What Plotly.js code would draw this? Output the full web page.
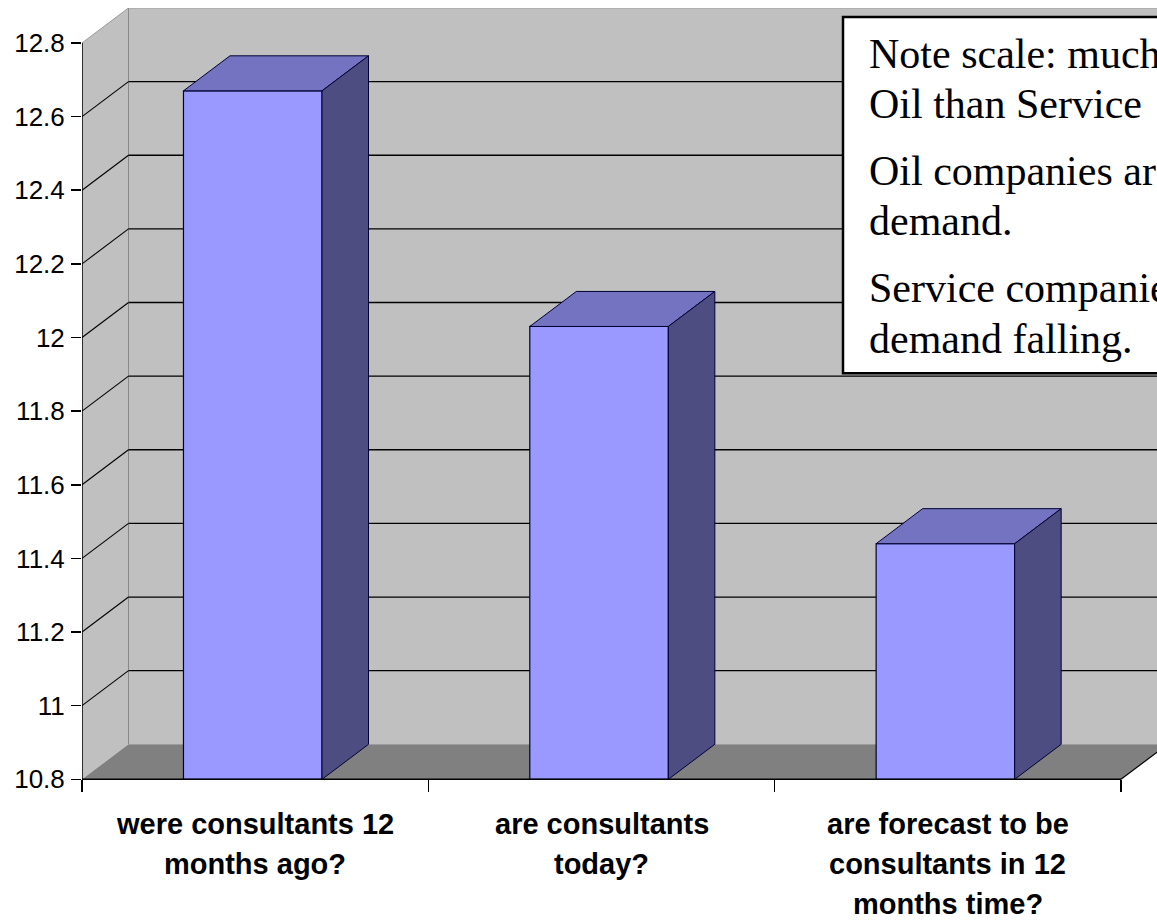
<!DOCTYPE html>
<html>
<head>
<meta charset="utf-8">
<script src="https://cdn.plot.ly/plotly-3.0.1.min.js"></script>
<style>html,body{margin:0;padding:0;background:#fff;}#chart{width:1157px;height:922px;}</style>
</head>
<body>
<div id="chart"></div>
<script>
// ---- data ----
const categories = ["were consultants 12 months ago?", "are consultants today?", "are forecast to be consultants in 12 months time?"];
const categoryLines = [["were consultants 12", "months ago?"], ["are consultants", "today?"], ["are forecast to be", "consultants in 12", "months time?"]];
const values = [12.67, 12.03, 11.44];
const yTickVals = [10.8, 11, 11.2, 11.4, 11.6, 11.8, 12, 12.2, 12.4, 12.6, 12.8];
const yTickText = ["10.8", "11", "11.2", "11.4", "11.6", "11.8", "12", "12.2", "12.4", "12.6", "12.8"];
const noteLines = ["Note scale: much", "Oil than Service", "Oil companies ar", "demand.", "Service companie", "demand falling."];

// ---- geometry / style ----
const W = 1157, H = 922;
const mL = 82, mR = 0, mT = 8;
const pxPerX = 346.33, pxPerY = 368;
const yMin = 10.79, yBase = 10.8, yTop = 12.8;
const plotW = W - mL - mR;
const xMax = plotW / pxPerX;
const yMax = 12.895;
const plotH = (yMax - yMin) * pxPerY;
const mB = H - mT - plotH;
const dx = 46.5 / pxPerX, dy = 35 / pxPerY;
const barW = 0.40, barOff = -0.207;
const nCat = categories.length;

function pX(p) { return (p - mL) / plotW; }
function pY(p) { return (mT + plotH - p) / plotH; }

const cFront = '#9999ff', cTop = '#7373c2', cSide = '#4d4d82';
const cWall = '#c0c0c0', cFloor = '#808080';

const shapes = [];
// side wall
shapes.push({type: 'path', xref: 'x', yref: 'y', layer: 'below',
  path: `M 0,${yBase} L 0,${yTop} L ${dx},${yTop + dy} L ${dx},${yBase + dy} Z`,
  fillcolor: cWall, line: {width: 0}});
// back wall
shapes.push({type: 'rect', xref: 'x', yref: 'y', layer: 'below',
  x0: dx, x1: nCat + dx, y0: yBase + dy, y1: yTop + dy, fillcolor: cWall, line: {width: 0}});
// floor
shapes.push({type: 'path', xref: 'x', yref: 'y', layer: 'below',
  path: `M 0,${yBase} L ${nCat},${yBase} L ${nCat + dx},${yBase + dy} L ${dx},${yBase + dy} Z`,
  fillcolor: cFloor, line: {width: 0}});
// wall edges
shapes.push({type: 'line', xref: 'x', yref: 'y', layer: 'below', x0: dx, x1: dx, y0: yBase + dy, y1: yTop + dy, line: {color: '#8a8a8a', width: 1}});
shapes.push({type: 'line', xref: 'x', yref: 'y', layer: 'below', x0: dx, x1: nCat + dx, y0: yTop + dy, y1: yTop + dy, line: {color: '#9a9a9a', width: 1}});
shapes.push({type: 'line', xref: 'x', yref: 'y', layer: 'below', x0: 0, x1: dx, y0: yTop, y1: yTop + dy, line: {color: '#9a9a9a', width: 1}});
// gridlines
yTickVals.forEach(v => {
  if (v <= yBase || v >= yTop) return;
  shapes.push({type: 'line', xref: 'x', yref: 'y', layer: 'below', x0: dx, x1: nCat + dx, y0: v + dy, y1: v + dy, line: {color: '#000', width: 1.3}});
  shapes.push({type: 'line', xref: 'x', yref: 'y', layer: 'below', x0: 0, x1: dx, y0: v, y1: v + dy, line: {color: '#000', width: 1.1}});
});
// front axis lines
shapes.push({type: 'line', xref: 'x', yref: 'y', layer: 'below', x0: 0, x1: 0, y0: yBase, y1: yTop, line: {color: '#000', width: 1.5}});
shapes.push({type: 'line', xref: 'x', yref: 'y', layer: 'above', x0: 0, x1: nCat, y0: yBase, y1: yBase, line: {color: '#000', width: 1.5}});
shapes.push({type: 'line', xref: 'x', yref: 'y', layer: 'above', x0: nCat, x1: nCat + dx, y0: yBase, y1: yBase + dy, line: {color: '#000', width: 1.2}});
// note box
shapes.push({type: 'rect', xref: 'paper', yref: 'paper', layer: 'above',
  x0: pX(843), x1: pX(1175), y0: pY(373), y1: pY(17), fillcolor: '#fff', line: {color: '#000', width: 2.5}});

const traces = [];
// front faces
traces.push({type: 'bar', x: values.map((v, i) => i + 0.5), y: values.map(v => v - yBase), base: yBase,
  width: barW, offset: barOff, marker: {color: cFront, line: {color: '#000033', width: 1.2}},
  hoverinfo: 'skip', showlegend: false});
// top and side faces
values.forEach((v, i) => {
  const x0 = i + 0.5 + barOff, x1 = x0 + barW;
  traces.push({type: 'scatter', mode: 'lines', fill: 'toself', fillcolor: cTop,
    x: [x0, x1, x1 + dx, x0 + dx, x0], y: [v, v, v + dy, v + dy, v],
    line: {color: '#000033', width: 1}, hoverinfo: 'skip', showlegend: false});
  traces.push({type: 'scatter', mode: 'lines', fill: 'toself', fillcolor: cSide,
    x: [x1, x1 + dx, x1 + dx, x1, x1], y: [yBase, yBase + dy, v + dy, v, yBase],
    line: {color: '#000033', width: 1}, hoverinfo: 'skip', showlegend: false});
});

const annotations = [];
categoryLines.forEach((lines, i) => {
  lines.forEach((t, j) => {
    annotations.push({xref: 'x', yref: 'paper', x: i + 0.5, y: pY(824 + 40 * j), text: t, showarrow: false,
      xanchor: 'center', yanchor: 'middle', font: {family: 'Liberation Sans, Arial, sans-serif', size: 29, color: '#000', weight: 'bold'}});
  });
});
const noteCenters = [54, 104, 171, 221, 288, 339];
noteLines.forEach((t, j) => {
  annotations.push({xref: 'paper', yref: 'paper', x: pX(867), y: pY(noteCenters[j]), text: t, showarrow: false,
    xanchor: 'left', yanchor: 'middle', font: {family: 'Liberation Serif, Times New Roman, serif', size: 42, color: '#000'}});
});

const layout = {
  width: W, height: H,
  margin: {l: mL, r: mR, t: mT, b: mB, pad: 0},
  paper_bgcolor: '#fff', plot_bgcolor: '#fff',
  showlegend: false,
  bargap: 0,
  xaxis: {range: [0, xMax], showgrid: false, zeroline: false, showline: false,
    anchor: 'free', position: (yBase - yMin) / (yMax - yMin),
    tickmode: 'array', tickvals: [0, 1, 2, 3], ticktext: ['', '', '', ''],
    ticks: 'outside', ticklen: 12, tickwidth: 1.5, tickcolor: '#000', fixedrange: true},
  yaxis: {range: [yMin, yMax], showgrid: false, zeroline: false, showline: false,
    tickmode: 'array', tickvals: yTickVals, ticktext: yTickText,
    ticks: 'outside', ticklen: 10, tickwidth: 1.5, tickcolor: '#000', ticklabelstandoff: 1,
    tickfont: {family: 'Liberation Sans, Arial, sans-serif', size: 26, color: '#000'}, fixedrange: true},
  shapes: shapes,
  annotations: annotations
};

Plotly.newPlot('chart', traces, layout, {displayModeBar: false, staticPlot: true});
</script>
</body>
</html>
